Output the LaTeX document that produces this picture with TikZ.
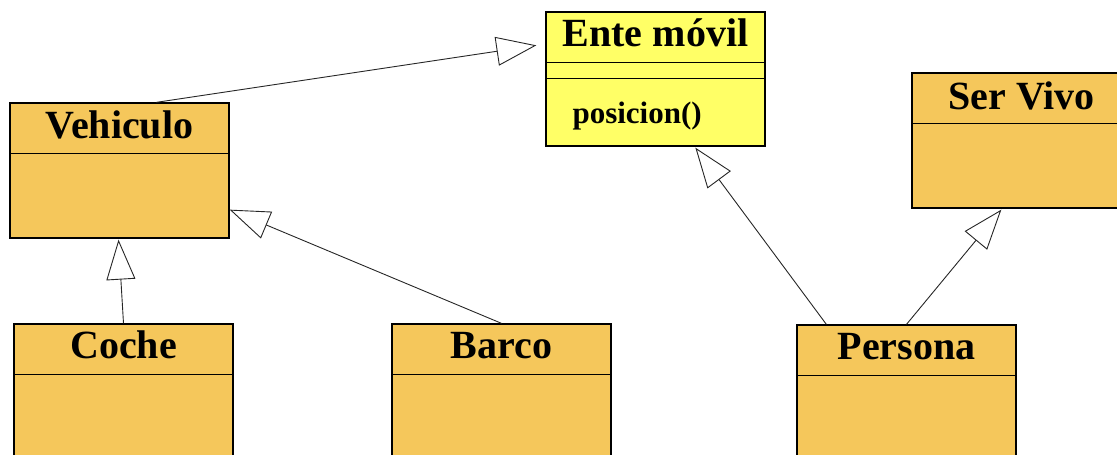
\documentclass[tikz,border=0pt]{standalone}
\usepackage{fontspec}
\setmainfont{Liberation Serif}
\usetikzlibrary{arrows.meta,calc}
\definecolor{cls}{RGB}{245,199,91}
\definecolor{ylw}{RGB}{255,255,102}
\begin{document}
\begin{tikzpicture}[x=1pt,y=-1pt,
  classbox/.style={draw=black,line width=1.3pt,fill=cls,rectangle,inner sep=0pt,minimum width=219pt,minimum height=135pt},
  ttl/.style={font=\bfseries\fontsize{40}{40}\selectfont,anchor=base,inner sep=0pt},
  op/.style={font=\bfseries\fontsize{31}{31}\selectfont,anchor=base west,inner sep=0pt},
  divider/.style={draw=black,line width=1.3pt},
  inh/.style={draw=black!85,line width=0.9pt,-{Triangle[length=40pt,width=29pt,fill=white,line width=0.9pt]}},
  ]
\useasboundingbox (0,0) rectangle (1117,455);
% class boxes
\node[classbox,fill=ylw,minimum height=134pt] (ente) at (655.5,79) {};
\node[classbox] (veh) at (119.5,170.5) {};
\node[classbox] (ser) at (1021.5,140.5) {};
\node[classbox] (coche) at (123.5,391.5) {};
\node[classbox] (barco) at (501.5,391.5) {};
\node[classbox] (persona) at (906.5,392.5) {};
% dividers
\draw[divider] ($(ente.north west)+(0,51)$) -- ($(ente.north east)+(0,51)$);
\draw[divider] ($(ente.north west)+(0,67)$) -- ($(ente.north east)+(0,67)$);
\foreach \b in {veh,ser,coche,barco,persona}{
  \draw[divider] ($(\b.north west)+(0,51)$) -- ($(\b.north east)+(0,51)$);
}
% titles
\node[ttl] (ente-t) at ($(ente.north)+(0,35)$) {Ente móvil};
\node[ttl] (veh-t) at ($(veh.north)+(0,36)$) {Vehiculo};
\node[ttl] (ser-t) at ($(ser.north)+(0,37)$) {Ser Vivo};
\node[ttl] (coche-t) at ($(coche.north)+(0,35.5)$) {Coche};
\node[ttl] (barco-t) at ($(barco.north)+(0,35.5)$) {Barco};
\node[ttl] (persona-t) at ($(persona.north)+(0,35)$) {Persona};
\node[op] (ente-op) at ($(ente.north west)+(27,112)$) {posicion()};
% inheritance connectors
\draw[inh] ($(veh.north west)+(147,0)$) -- ($(ente.north west)+(-9,34)$);
\draw[inh] (coche.north) -- ($(veh.south)+(-1,1)$);
\draw[inh] (barco.north) -- ($(veh.south east)+(0,-29)$);
\draw[inh] ($(persona.north west)+(30,0)$) -- ($(ente.south west)+(150,1)$);
\draw[inh] (persona.north) -- ($(ser.south west)+(90,1)$);
\end{tikzpicture}
\end{document}
